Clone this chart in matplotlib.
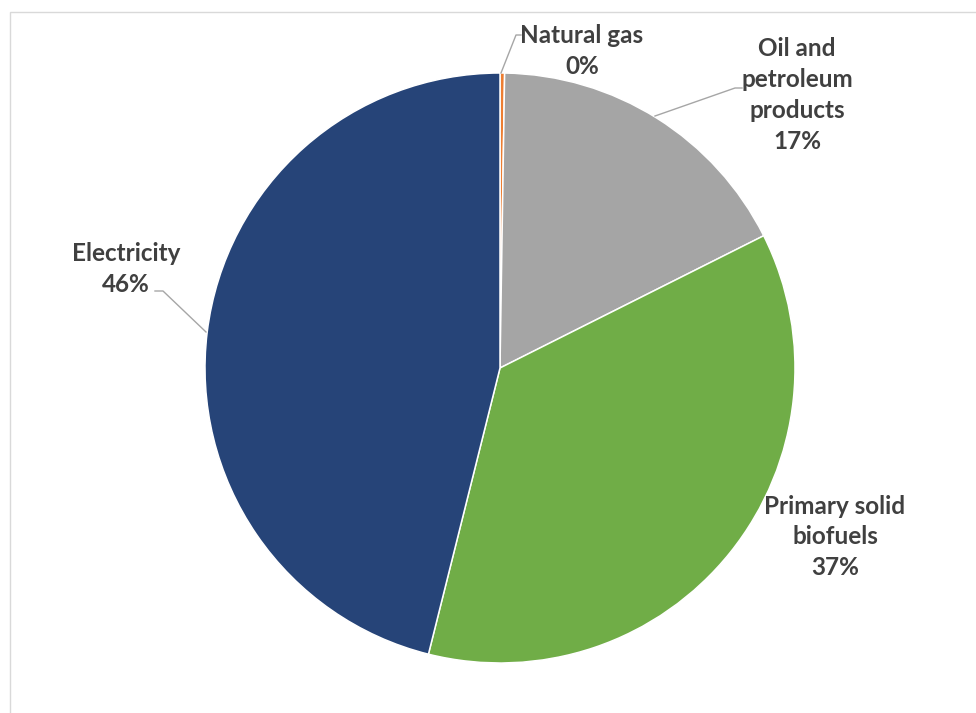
import numpy as np
import matplotlib
matplotlib.use('Agg')
from matplotlib import pyplot as plt
from matplotlib.patches import Rectangle

# ---- datos ----
categorias = ['Natural gas', 'Oil and\npetroleum\nproducts', 'Primary solid\nbiofuels', 'Electricity']
valores = [0.25, 17.35, 36.3, 46.1]
etiquetas_pct = ['0%', '17%', '37%', '46%']
colores = ['#ED7D31', '#A5A5A5', '#70AD47', '#264478']

W, H = 976, 713
fig = plt.figure(figsize=(W / 100, H / 100), dpi=100)
ax = fig.add_axes([0, 0, 1, 1])

# borde gris claro del area del grafico
fig.patches.append(Rectangle((10 / W, -0.1), 1.2, (H - 12) / H + 0.1, transform=fig.transFigure,
                             facecolor='none', edgecolor='#D9D9D9', linewidth=1.0))

cx, cy, r = 500, H - 368, 295
ax.pie(valores, colors=colores, startangle=90, counterclock=False, center=(cx, cy), radius=r,
       wedgeprops=dict(edgecolor='white', linewidth=1.1), frame=True)
ax.set_xlim(0, W)
ax.set_ylim(0, H)
ax.set_aspect('equal')
ax.axis('off')

txt = dict(fontsize=17.5, fontweight='bold', color='#404040', family=['Lato', 'DejaVu Sans'],
           ha='center', va='center', linespacing=1.42)

# posiciones de las etiquetas (pixeles, y desde arriba)
pos = [(582, 51), (797, 95), (835, 537), (126, 269)]
for nombre, pct, (px, py) in zip(categorias, etiquetas_pct, pos):
    ax.text(px, H - py, nombre + '\n' + pct, **txt)

# lineas guia
lc = dict(color='#A6A6A6', linewidth=1.0)
ax.plot([501, 516, 521], [H - 73, H - 35, H - 35], **lc)
ax.plot([655, 735, 742], [H - 116, H - 88, H - 88], **lc)
ax.plot([206, 163, 155], [H - 332, H - 291, H - 291], **lc)

fig.savefig('out.png', dpi=100)
